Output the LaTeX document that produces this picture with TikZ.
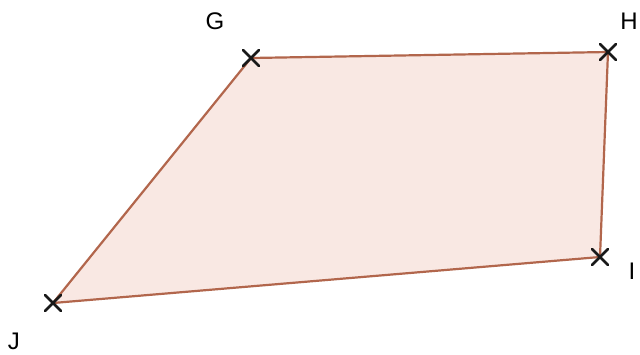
\documentclass[tikz,border=0pt]{standalone}
\usepackage{fontspec}
\setmainfont{Liberation Sans}
\usetikzlibrary{calc}
\definecolor{edgec}{RGB}{178,102,76}
\definecolor{fillc}{RGB}{249,232,227}
\begin{document}
\begin{tikzpicture}[x=1pt,y=-1pt,
  lbl/.style={font=\fontsize{24}{28}\selectfont, inner sep=0pt},
  crossmark/.style={draw=black!90, line width=2.8pt, line cap=round}]
\useasboundingbox (0,0) rectangle (640,354);
\fill[white] (0,0) rectangle (640,354);
\coordinate (G) at (251,58);
\coordinate (H) at (608,52);
\coordinate (I) at (600,257);
\coordinate (J) at (53,303);
\filldraw[fill=fillc, draw=edgec, line width=2.2pt, line join=round] (G) -- (H) -- (I) -- (J) -- cycle;
\foreach \p in {G,H,I,J}{
  \draw[crossmark] ($(\p)+(-8,-8)$) -- ($(\p)+(8,8)$);
  \draw[crossmark] ($(\p)+(-8,8)$) -- ($(\p)+(8,-8)$);
}
\node[lbl] (lG) at (215,21) {G};
\node[lbl] (lH) at (629,21) {H};
\node[lbl] (lI) at (632,271) {I};
\node[lbl] (lJ) at (14,341) {J};
\end{tikzpicture}
\end{document}
